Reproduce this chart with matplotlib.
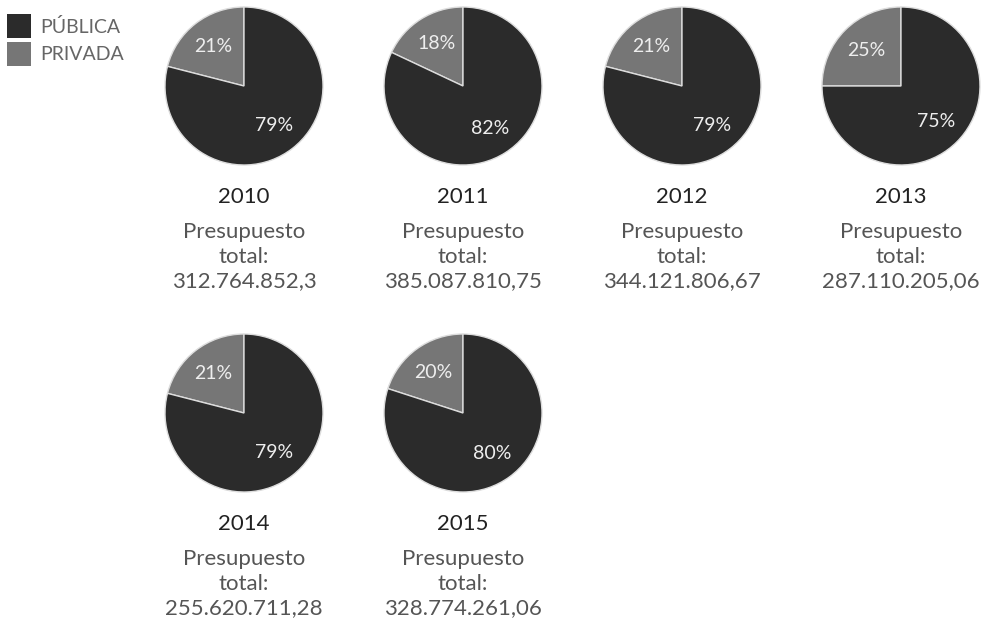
import matplotlib
matplotlib.use("Agg")
import matplotlib.pyplot as plt
import matplotlib.patches as patches

plt.rcParams['font.family'] = ['Lato', 'DejaVu Sans']

years = ['2010', '2011', '2012', '2013', '2014', '2015']
publica = [79, 82, 79, 75, 79, 80]
privada = [21, 18, 21, 25, 21, 20]
totals = ['312.764.852,3', '385.087.810,75', '344.121.806,67',
          '287.110.205,06', '255.620.711,28', '328.774.261,06']

DARK = '#2b2b2b'
GRAY = '#767676'
TEXT = '#555555'

W, H = 984, 628
fig = plt.figure(figsize=(W / 100, H / 100), dpi=100)
fig.patch.set_facecolor('white')

# pie centres in pixels (4 per row)
col_x = [244, 463, 682, 901]
row_y = [86, 413]
R = 79

for i, year in enumerate(years):
    cx = col_x[i % 4]
    cy = row_y[i // 4]
    ax = fig.add_axes([(cx - R) / W, 1 - (cy + R) / H, 2 * R / W, 2 * R / H])
    wedges, _, autotexts = ax.pie(
        [privada[i], publica[i]], colors=[GRAY, DARK], startangle=90,
        counterclock=True, autopct='%d%%', pctdistance=0.63,
        wedgeprops=dict(edgecolor='#dddddd', linewidth=1),
        textprops=dict(color='#eeeeee', fontsize=14))
    ax.set_xlim(-1, 1)
    ax.set_ylim(-1, 1)
    ax.set_aspect('equal')

    # labels below each pie
    lx = cx / W
    base = cy + 111
    fig.text(lx, 1 - base / H, year, ha='center', va='center',
             fontsize=16, color='#222222')
    for j, s in enumerate(['Presupuesto', 'total:', totals[i]]):
        fig.text(lx, 1 - (base + 35 + j * 24.5) / H, s, ha='center', va='center',
                 fontsize=16, color=TEXT)

# legend
for k, (lab, col) in enumerate([('PÚBLICA', DARK), ('PRIVADA', GRAY)]):
    y0 = 14 + k * 28
    fig.patches.append(patches.Rectangle((7 / W, 1 - (y0 + 24) / H), 24 / W, 24 / H,
                                         transform=fig.transFigure, facecolor=col,
                                         edgecolor='none'))
    fig.text(40 / W, 1 - (y0 + 13) / H, lab, ha='left', va='center',
             fontsize=14, color='#666666')

fig.savefig('out.png', dpi=100, facecolor='white')
